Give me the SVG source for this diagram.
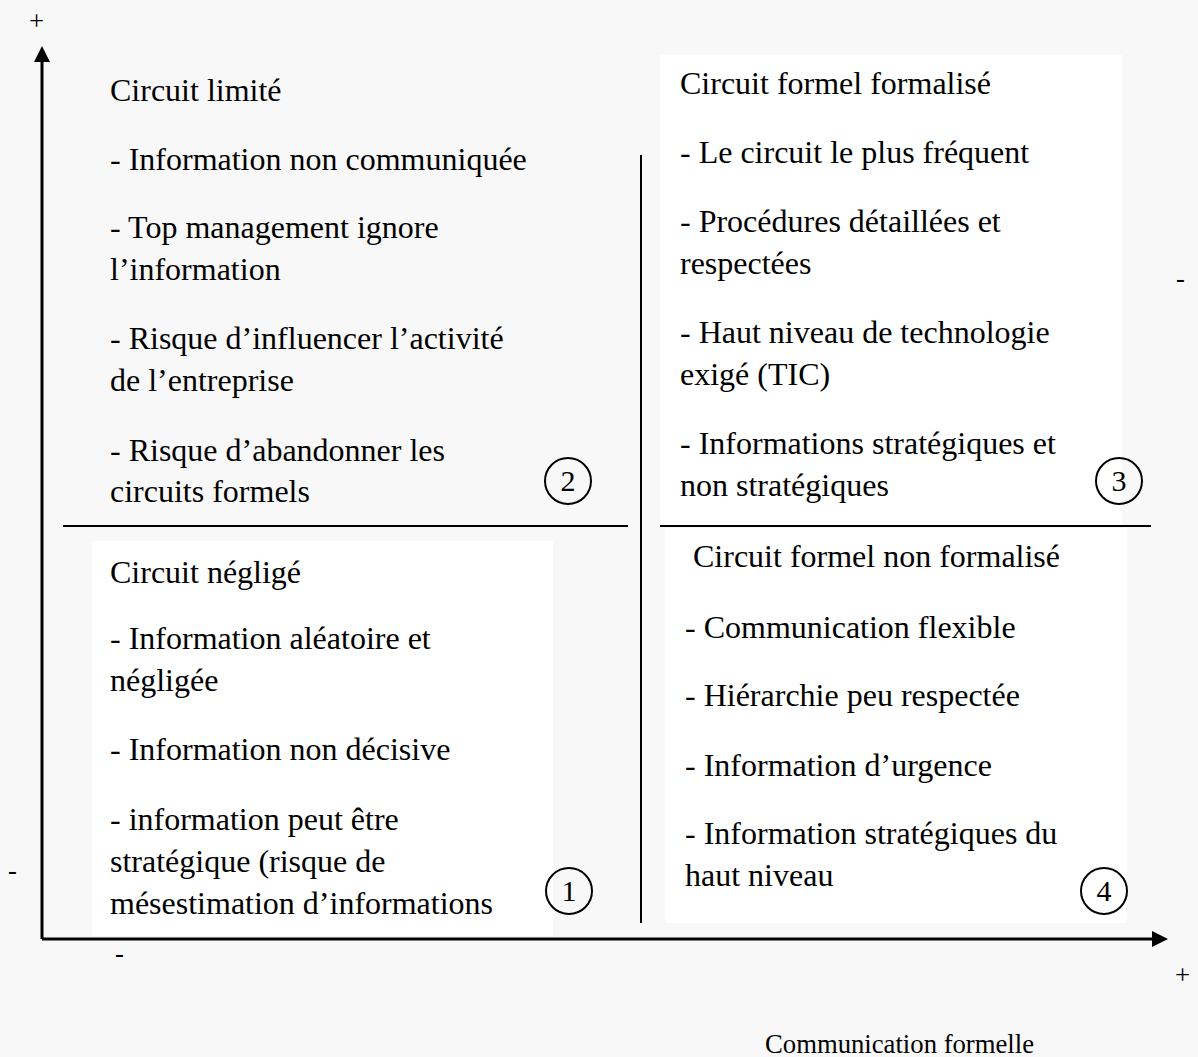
<svg xmlns="http://www.w3.org/2000/svg" width="1198" height="1057" viewBox="0 0 1198 1057">
<style>
text{font-family:"Liberation Serif","Times New Roman",serif;font-size:32px;fill:#000}
.ln{stroke:#000;stroke-width:2;fill:none}
.ax{stroke:#000;stroke-width:3;fill:none}
.c{stroke:#000;stroke-width:2;fill:none}
.box{fill:#fff}
.n{text-anchor:middle;font-size:30px}
.sm{font-size:26.7px}
</style>
<rect width="1198" height="1057" fill="#f8f8f8"/>
<g id="connectors">
<line class="ax" x1="42" y1="939" x2="42" y2="62"/>
<path d="M42,46 L34,62 L50,62 Z" fill="#000"/>
<line class="ax" x1="42" y1="939" x2="1152" y2="939"/>
<path d="M1168,939 L1152,931 L1152,947 Z" fill="#000"/>
<line class="ln" x1="63" y1="526" x2="628" y2="526"/>
<line class="ln" x1="660" y1="526" x2="1151" y2="526"/>
<line class="ln" x1="641" y1="155" x2="641" y2="923"/>
</g>
<g id="node2">
<text x="110" y="101">Circuit limité</text>
<text x="110" y="170">- Information non communiquée</text>
<text x="110" y="238">- Top management ignore</text>
<text x="110" y="280">l’information</text>
<text x="110" y="349">- Risque d’influencer l’activité</text>
<text x="110" y="391">de l’entreprise</text>
<text x="110" y="461">- Risque d’abandonner les</text>
<text x="110" y="502">circuits formels</text>
<ellipse class="c" cx="568" cy="481" rx="23" ry="23"/>
<text class="n" x="568" y="491">2</text>
</g>
<g id="node3">
<rect class="box" x="660" y="55" width="462" height="470"/>
<text x="680" y="94">Circuit formel formalisé</text>
<text x="680" y="163">- Le circuit le plus fréquent</text>
<text x="680" y="232">- Procédures détaillées et</text>
<text x="680" y="274">respectées</text>
<text x="680" y="343">- Haut niveau de technologie</text>
<text x="680" y="385">exigé (TIC)</text>
<text x="680" y="454">- Informations stratégiques et</text>
<text x="680" y="496">non stratégiques</text>
<ellipse class="c" cx="1119" cy="481" rx="23" ry="23"/>
<text class="n" x="1119" y="491">3</text>
</g>
<g id="node1">
<rect class="box" x="92" y="541" width="461" height="395"/>
<text x="110" y="583">Circuit négligé</text>
<text x="110" y="649">- Information aléatoire et</text>
<text x="110" y="691">négligée</text>
<text x="110" y="760">- Information non décisive</text>
<text x="110" y="830">- information peut être</text>
<text x="110" y="872">stratégique (risque de</text>
<text x="110" y="914">mésestimation d’informations</text>
<ellipse class="c" cx="569" cy="891" rx="23" ry="23"/>
<text class="n" x="569" y="901">1</text>
</g>
<g id="node4">
<rect class="box" x="665" y="528" width="462" height="395"/>
<text x="693" y="567">Circuit formel non formalisé</text>
<text x="685" y="638">- Communication flexible</text>
<text x="685" y="706">- Hiérarchie peu respectée</text>
<text x="685" y="776">- Information d’urgence</text>
<text x="685" y="844">- Information stratégiques du</text>
<text x="685" y="886">haut niveau</text>
<ellipse class="c" cx="1104" cy="891" rx="23" ry="23"/>
<text class="n" x="1104" y="901">4</text>
</g>
<g id="labels">
<text class="sm" x="29" y="30">+</text>
<text class="sm" x="1176" y="287">-</text>
<text class="sm" x="8" y="879">-</text>
<text class="sm" x="115" y="962">-</text>
<text class="sm" x="1175" y="984">+</text>
<text class="sm" x="765" y="1053">Communication formelle</text>
</g>
</svg>
